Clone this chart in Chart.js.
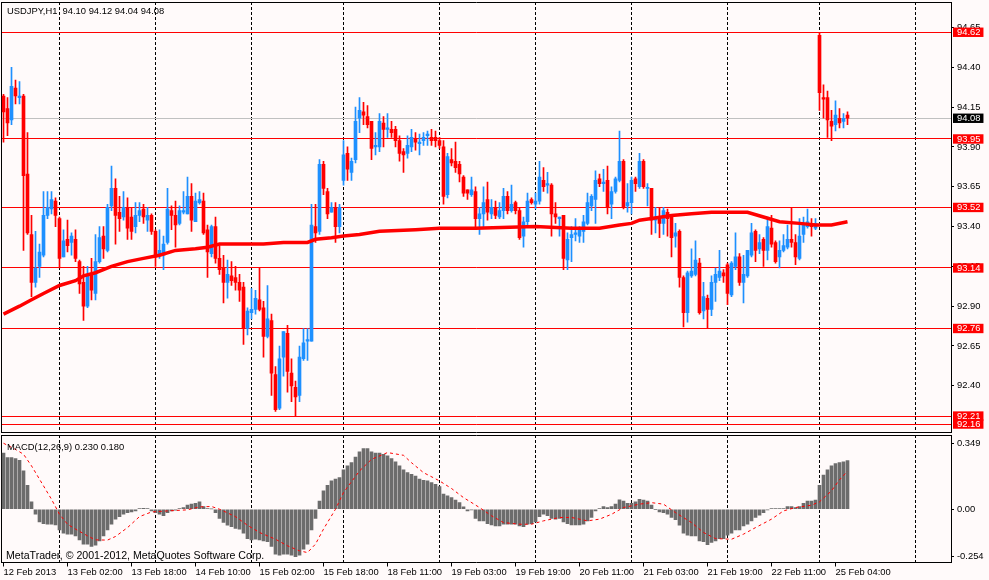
<!DOCTYPE html>
<html>
<head>
<meta charset="utf-8">
<script src="https://cdn.jsdelivr.net/npm/chart.js@4.4.1/dist/chart.umd.min.js"></script>
<style>
  body { margin: 0; background: #FFFAFA; }
  #wrap { position: relative; width: 989px; height: 580px; overflow: hidden; }
  canvas { position: absolute; left: 0; }
  .txt { position: absolute; font-family: "Liberation Sans", Arial, sans-serif; color: #000; white-space: pre; line-height: 11px; }
</style>
</head>
<body>
<div id="wrap">
  <canvas id="priceChart" width="989" height="434" style="top:0"></canvas>
  <canvas id="macdChart" width="989" height="146" style="top:434px"></canvas>
  <div class="txt" style="left:7px;top:5px;font-size:9.4px">USDJPY,H1  94.10 94.12 94.04 94.08</div>
  <div class="txt" style="left:7px;top:441px;font-size:9.4px">MACD(12,26,9) 0.230 0.180</div>
  <div class="txt" style="left:6px;top:550px;font-size:10.6px">MetaTrader, © 2001-2012, MetaQuotes Software Corp.</div>
</div>
<script>
"use strict";

// H1 candles, bar 0 = 12 Feb 10:00
const opens = [
  94.22,94.14,94.07,94.27,94.21,94.22,93.73,93.35,93.05,93.15, 93.22,93.47,93.51,93.56,93.45,93.21,93.32,93.30,93.32,93.18,
  93.05,92.90,93.10,92.98,93.18,93.34,93.25,93.53,93.64,93.49, 93.46,93.52,93.46,93.40,93.47,93.51,93.44,93.47,93.37,93.22,
  93.22,93.30,93.50,93.47,93.42,93.49,93.48,93.59,93.43,93.55, 93.56,93.38,93.23,93.40,93.20,93.14,93.05,93.09,93.08,93.05,
  93.02,92.76,92.86,92.88,92.94,92.89,92.71,92.81,92.47,92.26, 92.58,92.73,92.48,92.39,92.34,92.57,92.68,92.68,93.40,93.37,
  93.79,93.62,93.49,93.52,93.40,93.69,93.86,93.74,93.82,94.08, 94.12,94.09,94.06,93.90,93.90,94.05,94.01,94.01,94.01,93.94,
  93.87,93.86,93.90,93.95,93.92,93.94,93.97,93.96,93.96,93.94, 93.90,93.60,93.82,93.81,93.79,93.71,93.63,93.60,93.62,93.45,
  93.48,93.57,93.48,93.52,93.46,93.50,93.59,93.50,93.55,93.50, 93.34,93.43,93.57,93.54,93.56,93.69,93.66,93.66,93.48,93.45,
  93.47,93.19,93.33,93.35,93.34,93.37,93.42,93.53,93.57,93.70, 93.67,93.69,93.54,93.62,93.69,93.81,93.53,93.55,93.70,93.65,
  93.81,93.64,93.64,93.44,93.46,93.42,93.49,93.46,93.34,93.37, 93.08,92.86,93.09,93.10,93.17,92.87,92.95,92.88,93.05,93.08,
  93.11,93.16,92.97,93.15,93.21,93.05,93.09,93.22,93.37,93.26, 93.32,93.25,93.39,93.30,93.21,93.25,93.27,93.32,93.30,93.20,
  93.35,93.40,93.42,93.39,94.60,94.21,94.21,94.06,94.04,94.08, 94.06,94.10
];
const highs = [
  94.23,94.21,94.40,94.32,94.31,94.23,93.99,93.47,93.37,93.29, 93.62,93.62,93.62,93.58,93.46,93.38,93.44,93.36,93.38,93.19,
  93.15,93.15,93.20,93.35,93.40,93.40,93.54,93.78,93.70,93.59, 93.62,93.58,93.52,93.55,93.55,93.54,93.52,93.48,93.38,93.38,
  93.34,93.64,93.53,93.56,93.53,93.62,93.71,93.67,93.61,93.62, 93.61,93.41,93.41,93.46,93.28,93.22,93.19,93.18,93.15,93.10,
  93.05,92.89,93.01,93.00,93.14,92.93,93.03,92.85,92.52,92.65, 92.74,92.78,92.57,92.43,92.65,92.76,92.76,93.54,93.54,93.82,
  93.81,93.64,93.55,93.55,93.54,93.94,93.90,93.83,94.15,94.21, 94.18,94.16,94.06,93.99,94.11,94.09,94.11,94.06,94.03,93.97,
  93.89,93.97,94.01,93.99,93.98,93.99,94.00,94.01,94.00,93.96, 93.94,93.86,93.89,93.93,93.81,93.72,93.63,93.71,93.65,93.52,
  93.65,93.68,93.57,93.56,93.55,93.64,93.62,93.66,93.56,93.52, 93.46,93.61,93.58,93.61,93.81,93.77,93.74,93.67,93.55,93.46,
  93.47,93.36,93.40,93.45,93.40,93.47,93.61,93.60,93.75,93.73, 93.76,93.78,93.65,93.71,94.00,93.82,93.67,93.71,93.71,93.86,
  93.82,93.67,93.64,93.52,93.52,93.52,93.51,93.46,93.42,93.38, 93.09,93.12,93.26,93.31,93.20,93.05,92.97,93.09,93.14,93.25,
  93.13,93.17,93.18,93.36,93.23,93.22,93.25,93.42,93.38,93.35, 93.33,93.46,93.47,93.31,93.31,93.35,93.41,93.52,93.35,93.45,
  93.46,93.51,93.45,93.45,94.62,94.29,94.25,94.13,94.19,94.14, 94.11,94.12
];
const lows = [
  93.93,93.97,94.04,94.17,94.17,93.25,93.35,92.96,93.02,93.08, 93.21,93.45,93.48,93.40,93.14,93.21,93.24,93.22,93.18,92.98,
  92.81,92.89,92.94,92.94,93.17,93.20,93.24,93.50,93.29,93.37, 93.44,93.32,93.32,93.36,93.43,93.42,93.37,93.35,93.15,93.20,
  93.13,93.29,93.38,93.27,93.41,93.48,93.48,93.37,93.43,93.54, 93.35,93.08,93.21,93.17,93.10,92.92,92.95,93.03,93.00,92.93,
  92.66,92.72,92.82,92.85,92.87,92.58,92.70,92.34,92.24,92.25, 92.46,92.36,92.30,92.21,92.30,92.56,92.56,92.68,93.30,93.35,
  93.60,93.45,93.49,93.30,93.36,93.66,93.69,93.69,93.80,93.99, 94.04,94.02,93.82,93.85,93.87,93.90,93.96,93.96,93.90,93.81,
  93.74,93.83,93.87,93.88,93.85,93.91,93.91,93.91,93.90,93.89, 93.54,93.58,93.78,93.74,93.68,93.59,93.57,93.59,93.40,93.35,
  93.40,93.44,93.45,93.45,93.45,93.45,93.48,93.49,93.48,93.32, 93.27,93.41,93.54,93.51,93.54,93.62,93.61,93.34,93.42,93.34,
  93.13,93.13,93.18,93.31,93.30,93.30,93.41,93.50,93.42,93.65, 93.62,93.48,93.45,93.61,93.68,93.51,93.49,93.48,93.62,93.64,
  93.64,93.53,93.35,93.36,93.33,93.35,93.34,93.21,93.27,93.02, 92.77,92.80,93.08,93.09,92.85,92.82,92.76,92.84,92.93,93.06,
  93.05,92.91,92.96,93.13,93.03,92.92,93.08,93.21,93.18,93.23, 93.15,93.19,93.27,93.17,93.14,93.24,93.26,93.27,93.16,93.19,
  93.30,93.39,93.34,93.38,94.13,94.08,93.96,93.94,94.00,94.02, 94.02,94.04
];
const closes = [
  94.12,94.05,94.28,94.22,94.22,93.72,93.36,93.05,93.14,93.24, 93.47,93.52,93.57,93.47,93.20,93.31,93.28,93.34,93.20,93.04,
  92.90,93.10,93.00,93.18,93.33,93.26,93.52,93.64,93.47,93.45, 93.52,93.39,93.37,93.47,93.50,93.46,93.47,93.37,93.21,93.25,
  93.29,93.51,93.47,93.41,93.50,93.50,93.59,93.44,93.56,93.57, 93.36,93.24,93.40,93.20,93.13,93.05,93.10,93.06,93.05,93.00,
  92.76,92.87,92.88,92.95,92.88,92.71,92.82,92.48,92.25,92.57, 92.74,92.49,92.40,92.33,92.58,92.67,92.69,93.41,93.36,93.79,
  93.64,93.48,93.52,93.40,93.52,93.85,93.76,93.81,94.06,94.13, 94.10,94.04,93.89,93.91,94.06,94.01,94.02,93.99,93.94,93.86,
  93.85,93.91,93.96,93.93,93.93,93.96,93.98,93.94,93.94,93.91, 93.59,93.84,93.80,93.77,93.73,93.61,93.61,93.63,93.45,93.48,
  93.55,93.49,93.52,93.47,93.50,93.59,93.50,93.54,93.50,93.33, 93.43,93.56,93.55,93.56,93.71,93.65,93.67,93.48,93.46,93.46,
  93.20,93.32,93.35,93.36,93.38,93.43,93.55,93.59,93.69,93.67, 93.68,93.52,93.62,93.70,93.81,93.52,93.55,93.69,93.67,93.81,
  93.65,93.64,93.44,93.46,93.42,93.50,93.45,93.33,93.36,93.08, 92.86,93.11,93.12,93.19,92.86,92.96,92.88,93.05,93.10,93.12,
  93.09,92.98,93.17,93.21,93.05,93.10,93.25,93.36,93.25,93.30, 93.25,93.40,93.29,93.18,93.25,93.28,93.32,93.30,93.21,93.34,
  93.42,93.43,93.40,93.42,94.24,94.20,94.07,94.03,94.10,94.05, 94.08,94.08
];

// thick red moving average, sampled along the line
const maBars   = [0, 4, 7, 10, 14, 18, 20, 23, 27, 31, 35, 39, 43, 48, 51, 54, 59, 65, 70, 76, 78, 82, 85, 89, 94, 103, 109, 118, 133, 142, 149, 154, 157, 159, 162, 167, 172, 177, 186, 190, 194, 199, 203, 207, 211];
const maValues = [92.85, 92.90, 92.94, 92.98, 93.03, 93.06, 93.09, 93.11, 93.15, 93.18, 93.20, 93.22, 93.25, 93.26, 93.27, 93.29, 93.29, 93.29, 93.30, 93.30, 93.32, 93.33, 93.34, 93.35, 93.37, 93.38, 93.39, 93.39, 93.40, 93.39, 93.39, 93.41, 93.42, 93.44, 93.45, 93.47, 93.48, 93.49, 93.49, 93.46, 93.43, 93.42, 93.41, 93.41, 93.43];

// MACD(12,26,9) histogram per bar
const macdHist = [
  0.265,0.244,0.244,0.239,0.231,0.181,0.113,0.035,-0.024,-0.060, -0.068,-0.071,-0.071,-0.074,-0.098,-0.113,-0.118,-0.118,-0.126,-0.145,
  -0.165,-0.165,-0.176,-0.170,-0.150,-0.126,-0.098,-0.071,-0.047,-0.035, -0.024,-0.016,-0.013,-0.008,0.003,0.004,0.003,-0.008,-0.016,-0.024,
  -0.031,-0.016,-0.008,-0.005,0.003,0.008,0.019,0.024,0.028,0.035, 0.013,0.003,0.001,-0.016,-0.044,-0.063,-0.076,-0.083,-0.091,-0.094,
  -0.113,-0.139,-0.145,-0.142,-0.145,-0.150,-0.154,-0.176,-0.213,-0.217, -0.213,-0.213,-0.217,-0.224,-0.217,-0.189,-0.165,-0.098,-0.044,0.039,
  0.087,0.113,0.134,0.142,0.150,0.186,0.205,0.220,0.247,0.271, 0.287,0.287,0.271,0.265,0.265,0.260,0.252,0.239,0.224,0.205,
  0.186,0.173,0.165,0.157,0.142,0.137,0.134,0.126,0.118,0.107, 0.071,0.063,0.055,0.043,0.031,0.011,-0.008,-0.003,-0.044,-0.055,
  -0.055,-0.068,-0.074,-0.079,-0.079,-0.071,-0.071,-0.071,-0.071,-0.079, -0.083,-0.071,-0.068,-0.060,-0.035,-0.024,-0.031,-0.044,-0.047,-0.044,
  -0.060,-0.068,-0.074,-0.074,-0.074,-0.071,-0.055,-0.039,-0.008,0.003, 0.013,0.008,0.013,0.024,0.044,0.039,0.028,0.028,0.035,0.047,
  0.043,0.039,0.019,-0.002,-0.013,-0.016,-0.024,-0.039,-0.050,-0.076, -0.113,-0.123,-0.126,-0.126,-0.150,-0.154,-0.168,-0.157,-0.150,-0.139,
  -0.139,-0.123,-0.113,-0.098,-0.098,-0.079,-0.071,-0.055,-0.039,-0.028, -0.016,-0.003,0.003,0.003,0.003,0.003,0.013,0.013,0.008,0.013,
  0.028,0.039,0.039,0.043,0.113,0.161,0.186,0.205,0.216,0.220, 0.224,0.230
];
// signal line, sampled along the dotted red curve
const signalBars   = [0, 3, 5, 7, 9, 12, 14, 16, 18, 21, 23, 26, 28, 31, 34, 37, 41, 46, 49, 52, 54, 58, 61, 64, 68, 71, 74, 76, 78, 80, 83, 85, 89, 92, 96, 100, 102, 105, 109, 112, 115, 119, 122, 125, 129, 132, 135, 139, 142, 146, 149, 152, 155, 159, 162, 165, 168, 172, 175, 178, 182, 185, 188, 192, 195, 198, 202, 204, 207, 209, 211];
const signalValues = [0.312, 0.283, 0.260, 0.205, 0.142, 0.047, -0.024, -0.071, -0.094, -0.126, -0.145, -0.146, -0.129, -0.087, -0.035, -0.013, -0.008, -0.003, 0.011, 0.013, 0.000, -0.035, -0.076, -0.110, -0.142, -0.173, -0.197, -0.205, -0.165, -0.094, 0.000, 0.079, 0.181, 0.236, 0.268, 0.255, 0.220, 0.173, 0.134, 0.098, 0.055, 0.008, -0.031, -0.063, -0.071, -0.071, -0.055, -0.039, -0.039, -0.055, -0.047, -0.024, 0.008, 0.024, 0.031, 0.024, -0.016, -0.063, -0.110, -0.139, -0.142, -0.118, -0.087, -0.047, -0.008, 0.008, 0.019, 0.035, 0.087, 0.139, 0.180];

const levelLines = [94.62, 93.95, 93.52, 93.14, 92.76, 92.21, 92.16];
const bidLine = 94.08;
const priceTicks = [94.65, 94.40, 94.15, 93.90, 93.65, 93.40, 93.15, 92.90, 92.65, 92.40];
const macdTickValues = [0.312, 0, -0.225];
const macdTickLabels = ['0.349', '0.00', '-0.254'];

const dayStartBars = [14, 38, 62, 85, 109, 133, 157, 181, 204, 228];
const timeLabelBars = [0, 16, 32, 48, 64, 80, 96, 112, 128, 144, 160, 176, 192, 208];
const timeLabels = ['12 Feb 2013', '13 Feb 02:00', '13 Feb 18:00', '14 Feb 10:00', '15 Feb 02:00', '15 Feb 18:00', '18 Feb 11:00',
  '19 Feb 03:00', '19 Feb 19:00', '20 Feb 11:00', '21 Feb 03:00', '21 Feb 19:00', '22 Feb 11:00', '25 Feb 04:00'];

const X_MIN = -0.5;
const X_MAX = 236.875; // 4px per bar over the plot width
const UP_COLOR = '#1E90FF';
const DOWN_COLOR = '#FF0000';
const HIST_COLOR = '#6C6C6C';
const FONT = 'Liberation Sans';
const CLEAR = 'rgba(0,0,0,0)';

Chart.defaults.font.family = FONT;
Chart.defaults.color = '#000';

const candleColors = closes.map((c, i) => c >= opens[i] ? UP_COLOR : DOWN_COLOR);
const wickData = highs.map((h, i) => ({ x: i, y: [lows[i], h] }));
const bodyData = opens.map((o, i) => ({ x: i, y: [Math.min(o, closes[i]), Math.max(o, closes[i])] }));
const maData = maBars.map((b, i) => ({ x: b, y: maValues[i] }));
const histData = macdHist.map((v, i) => ({ x: i, y: v }));
const signalData = signalBars.map((b, i) => ({ x: b, y: signalValues[i] }));

// scriptable helpers, the scale context has no tick
const tickVal = (ctx) => (ctx && ctx.tick ? ctx.tick.value : null);
const isLevel = (v) => levelLines.includes(v);
const isMarked = (v) => isLevel(v) || v === bidLine;

// fixed box size, and no extra room for overflowing labels
const fixSize = (w, h) => (s) => {
  if (w !== null) s.width = w;
  if (h !== null) s.height = h;
  s.paddingTop = 0; s.paddingBottom = 0; s.paddingLeft = 0; s.paddingRight = 0;
};

// thin frame axes (top and left border of each panel)
const frameX = (h) => ({
  type: 'linear', position: 'top', display: true, offset: false,
  ticks: { display: false }, grid: { display: false, offset: false },
  border: { display: true, color: '#000' },
  afterFit: fixSize(null, h)
});
const frameY = () => ({
  type: 'linear', position: 'left', display: true,
  ticks: { display: false }, grid: { display: false },
  border: { display: true, color: '#000' },
  afterFit: fixSize(1.5, null)
});

new Chart(document.getElementById('priceChart'), {
  type: 'bar',
  data: {
    datasets: [{
      type: 'line',
      data: maData,
      xAxisID: 'x', yAxisID: 'y',
      borderColor: '#FF0000',
      borderWidth: 3.5,
      pointRadius: 0,
      tension: 0
    }, {
      data: bodyData,
      xAxisID: 'x', yAxisID: 'y',
      backgroundColor: candleColors,
      barThickness: 3,
      minBarLength: 1,
      grouped: false
    }, {
      data: wickData,
      xAxisID: 'x', yAxisID: 'y',
      backgroundColor: candleColors,
      barThickness: 1,
      minBarLength: 1,
      grouped: false
    }]
  },
  options: {
    responsive: false,
    animation: false,
    events: [],
    layout: { padding: 0 },
    plugins: { legend: { display: false }, tooltip: { enabled: false } },
    scales: {
      x: {
        type: 'linear', position: 'bottom', min: X_MIN, max: X_MAX, offset: false,
        afterBuildTicks: (s) => { s.ticks = dayStartBars.map(v => ({ value: v })); },
        ticks: { display: false },
        grid: { color: '#000', drawTicks: false, lineWidth: 1, offset: false },
        border: { color: '#000', dash: [3, 2] },
        afterFit: fixSize(null, 2)
      },
      xt: frameX(2),
      yl: frameY(),
      y: {
        type: 'linear', position: 'right', min: 92.11, max: 94.81,
        afterBuildTicks: (s) => { s.ticks = [...priceTicks, ...levelLines, bidLine].map(v => ({ value: v })); },
        afterFit: fixSize(38, null),
        ticks: {
          autoSkip: false,
          padding: 3,
          font: { size: 9.4, lineHeight: 1 },
          color: (ctx) => isMarked(tickVal(ctx)) ? '#FFFFFF' : '#000000',
          showLabelBackdrop: true,
          backdropColor: (ctx) => isLevel(tickVal(ctx)) ? '#FF0000' : (tickVal(ctx) === bidLine ? '#000000' : CLEAR),
          backdropPadding: { top: 0, bottom: 0, left: 4, right: 3 },
          callback: (v) => Number(v).toFixed(2)
        },
        grid: {
          drawOnChartArea: true,
          tickLength: 3,
          color: (ctx) => isLevel(tickVal(ctx)) ? '#FF0000' : (tickVal(ctx) === bidLine ? '#C0C0C0' : CLEAR),
          tickColor: (ctx) => isMarked(tickVal(ctx)) ? CLEAR : '#000000'
        },
        border: { color: '#000' }
      }
    }
  }
});

const macdXTicks = [...dayStartBars, ...timeLabelBars].sort((a, b) => a - b);

new Chart(document.getElementById('macdChart'), {
  type: 'bar',
  data: {
    datasets: [{
      type: 'line',
      data: signalData,
      xAxisID: 'x', yAxisID: 'y',
      borderColor: '#FF0000',
      borderWidth: 1,
      borderDash: [3, 3],
      pointRadius: 0,
      tension: 0
    }, {
      data: histData,
      xAxisID: 'x', yAxisID: 'y',
      backgroundColor: HIST_COLOR,
      barThickness: 3,
      grouped: false
    }]
  },
  options: {
    responsive: false,
    animation: false,
    events: [],
    layout: { padding: 0 },
    plugins: { legend: { display: false }, tooltip: { enabled: false } },
    scales: {
      x: {
        type: 'linear', position: 'bottom', min: X_MIN, max: X_MAX, offset: false,
        afterBuildTicks: (s) => { s.ticks = macdXTicks.map(v => ({ value: v })); },
        ticks: {
          autoSkip: false, maxRotation: 0, minRotation: 0, align: 'start', padding: 0,
          font: { size: 9.4 },
          callback: (v) => {
            const k = timeLabelBars.indexOf(v);
            return k >= 0 ? timeLabels[k] : '';
          }
        },
        grid: {
          tickLength: 4,
          offset: false,
          color: (ctx) => dayStartBars.includes(tickVal(ctx)) ? '#000000' : CLEAR,
          tickColor: (ctx) => timeLabelBars.includes(tickVal(ctx)) ? '#000000' : CLEAR
        },
        border: { color: '#000', dash: [3, 2] },
        afterFit: fixSize(null, 17.5)
      },
      xt: frameX(1),
      yl: frameY(),
      y: {
        type: 'linear', position: 'right', min: -0.252, max: 0.351,
        afterBuildTicks: (s) => { s.ticks = macdTickValues.map(v => ({ value: v })); },
        afterFit: fixSize(38, null),
        ticks: {
          autoSkip: false, padding: 3,
          font: { size: 9.4 },
          callback: (v) => macdTickLabels[macdTickValues.indexOf(v)]
        },
        grid: { drawOnChartArea: false, tickLength: 3, color: '#000' },
        border: { color: '#000' }
      }
    }
  }
});
</script>
</body>
</html>
